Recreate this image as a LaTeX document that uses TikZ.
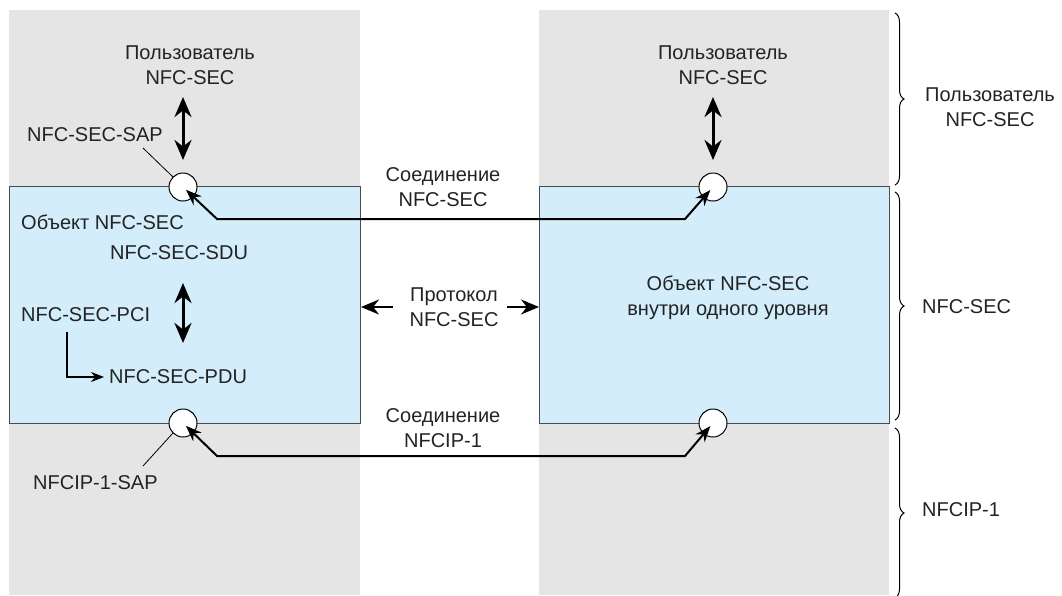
\documentclass[tikz,border=0pt]{standalone}
\usepackage{fontspec}
\setmainfont{Liberation Sans}
\usetikzlibrary{arrows.meta,decorations.pathreplacing,calc}
\definecolor{colgray}{RGB}{229,229,229}
\definecolor{boxblue}{RGB}{211,237,250}
\definecolor{txtcol}{RGB}{35,35,35}
\begin{document}
\begin{tikzpicture}[x=1pt,y=-1pt,
  font=\fontsize{20}{25}\selectfont,
  column/.style={fill=colgray, draw=none, inner sep=0pt, anchor=north west},
  layerbox/.style={fill=boxblue, draw=black!70, line width=1pt, inner sep=0pt, anchor=north west},
  sap/.style={circle, draw=black, fill=white, line width=1pt, minimum size=28pt, inner sep=0pt},
  lbl/.style={inner sep=0pt, text=txtcol},
  lblc/.style={inner sep=0pt, text=txtcol, align=center},
  link/.style={line width=2pt, {Stealth[length=16pt,width=12pt]}-{Stealth[length=16pt,width=12pt]}},
  vbi/.style={line width=3pt, {Stealth[length=20pt,width=17pt]}-{Stealth[length=20pt,width=17pt]}},
  parrow/.style={line width=2pt, -{Stealth[length=18pt,width=15pt]}},
  elbow/.style={line width=1.6pt, -{Stealth[length=13pt,width=10pt]}},
  leader/.style={line width=0.8pt},
  bracestyle/.style={line width=1pt, decorate, decoration={brace, amplitude=9pt}}
]
\useasboundingbox (0,0) rectangle (1062,595);
\clip (0,0) rectangle (1062,595);

% columns
\node[column, minimum width=351pt, minimum height=585pt] (lcol) at (9,10) {};
\node[column, minimum width=350pt, minimum height=585pt] (rcol) at (539,10) {};
% layer boxes
\node[layerbox, minimum width=351pt, minimum height=237pt] (lbox) at (9,186) {};
\node[layerbox, minimum width=350pt, minimum height=237pt] (rbox) at (539,186) {};

% service access points
\node[sap] (sapLT) at (183,187) {};
\node[sap] (sapLB) at (183,423) {};
\node[sap] (sapRT) at (713,187) {};
\node[sap] (sapRB) at (713,423) {};

% labels
\node[lblc] (userL) at (190,65.5) {Пользователь\\NFC-SEC};
\node[lblc] (userR) at (723,65.5) {Пользователь\\NFC-SEC};
\node[lbl, anchor=west] (sapLbl) at (27,135) {NFC-SEC-SAP};
\node[lbl, anchor=west] (objL) at (21,222) {Объект NFC-SEC};
\node[lbl, anchor=west] (sdu) at (110,253) {NFC-SEC-SDU};
\node[lbl, anchor=west] (pci) at (21,315) {NFC-SEC-PCI};
\node[lbl, anchor=west] (pdu) at (109,377) {NFC-SEC-PDU};
\node[lbl, anchor=west] (ipsap) at (33,483) {NFCIP-1-SAP};
\node[lblc] (connSec) at (443,187) {Соединение\\NFC-SEC};
\node[lblc] (proto) at (454,307.5) {Протокол\\NFC-SEC};
\node[lblc] (connIp) at (443,428) {Соединение\\NFCIP-1};
\node[lblc] (objR) at (728,297.5) {Объект NFC-SEC\\внутри одного уровня};
\node[lblc] (layUser) at (990,107) {Пользователь\\NFC-SEC};
\node[lbl, anchor=west] (laySec) at (922,307) {NFC-SEC};
\node[lbl, anchor=west] (layIp) at (922,510) {NFCIP-1};

% vertical double arrows
\coordinate (uLa) at (183,97);  \coordinate (uLb) at (183,160);
\coordinate (uRa) at (713,97);  \coordinate (uRb) at (713,160);
\coordinate (iLa) at (183,283); \coordinate (iLb) at (183,343);
\draw[vbi] (uLa) -- (uLb);
\draw[vbi] (uRa) -- (uRb);
\draw[vbi] (iLa) -- (iLb);

% connections
\coordinate (t1) at (217,219); \coordinate (t2) at (685,219);
\coordinate (b1) at (217,456); \coordinate (b2) at (685,456);
\draw[link, shorten <=4pt, shorten >=4pt] (sapLT.center) -- (t1) -- (t2) -- (sapRT.center);
\draw[link, shorten <=4pt, shorten >=4pt] (sapLB.center) -- (b1) -- (b2) -- (sapRB.center);

% protocol arrows
\coordinate (pl) at (393,307); \coordinate (pr) at (507,307);
\draw[parrow] (pl) -- (pl -| lbox.east);
\draw[parrow] (pr) -- (pr -| rbox.west);

% PCI -> PDU elbow
\coordinate (e0) at (67,332);
\draw[elbow, shorten >=5pt] (e0) |- (pdu.west);

% leader lines
\coordinate (s1) at (143,148);
\coordinate (s2) at (143,466);
\draw[leader] (s1) -- (sapLT.135);
\draw[leader] (s2) -- (sapLB.225);

% braces
\coordinate (br1a) at (895,13);  \coordinate (br1b) at (895,185);
\coordinate (br2a) at (895,192); \coordinate (br2b) at (895,420);
\coordinate (br3a) at (895,428); \coordinate (br3b) at (895,598);
\draw[bracestyle] (br1a) -- (br1b);
\draw[bracestyle] (br2a) -- (br2b);
\draw[bracestyle] (br3a) -- (br3b);
\end{tikzpicture}
\end{document}
